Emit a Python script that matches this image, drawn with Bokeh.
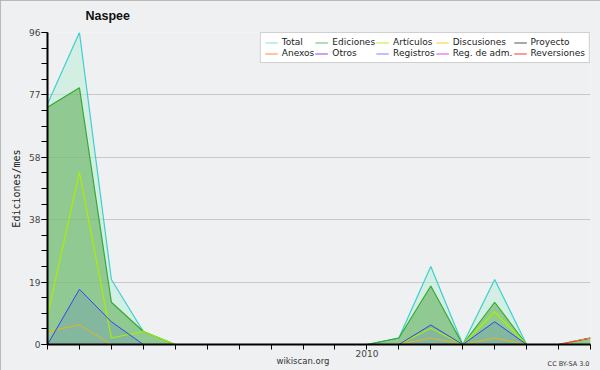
from bokeh.plotting import figure
from bokeh.models import Range1d, FixedTicker, PrintfTickFormatter, Legend, LegendItem, Title
from bokeh.embed import file_html
from bokeh.resources import INLINE

months = ["2009-03", "2009-04", "2009-05", "2009-06", "2009-07", "2009-08",
          "2009-09", "2009-10", "2009-11", "2009-12", "2010-01", "2010-02",
          "2010-03", "2010-04", "2010-05", "2010-06", "2010-07", "2010-08"]
total       = [74, 96, 20, 4, 0, 0, 0, 0, 0, 0, 0, 2, 24, 0, 20, 0, 0, 2]
ediciones   = [73, 79, 13, 4, 0, 0, 0, 0, 0, 0, 0, 2, 18, 0, 13, 0, 0, 2]
articulos   = [9, 53, 2, 4, 0, 0, 0, 0, 0, 0, 0, 0, 5, 0, 10, 0, 0, 0]
discusiones = [4, 6, 0, 0, 0, 0, 0, 0, 0, 0, 0, 0, 2, 0, 2, 0, 0, 0]
proyecto    = [0, 0, 0, 0, 0, 0, 0, 0, 0, 0, 0, 0, 0, 0, 0, 0, 0, 0]
anexos      = [0, 0, 0, 0, 0, 0, 0, 0, 0, 0, 0, 0, 0, 0, 0, 0, 0, 2]
otros       = [0, 0, 0, 0, 0, 0, 0, 0, 0, 0, 0, 0, 0, 0, 0, 0, 0, 0]
registros   = [0, 17, 7, 0, 0, 0, 0, 0, 0, 0, 0, 0, 6, 0, 7, 0, 0, 0]
reg_adm     = [0, 0, 0, 0, 0, 0, 0, 0, 0, 0, 0, 0, 0, 0, 0, 0, 0, 0]
reversiones = [0, 0, 0, 0, 0, 0, 0, 0, 0, 0, 0, 0, 0, 0, 0, 0, 0, 2]
y_max = 96
y_label = "Ediciones/mes"
title_text = "Naspee"

x = list(range(len(months)))
BG = "#EFF0F1"
FONT = "DejaVu Sans"

p = figure(width=600, height=370, output_backend="svg", toolbar_location=None,
           title=title_text,
           x_range=Range1d(0, len(months) - 1), y_range=Range1d(0, y_max),
           min_border_left=47, min_border_right=10, min_border_top=32, min_border_bottom=26,
           background_fill_color=BG, border_fill_color=BG, outline_line_color=None)
p.styles = {"outline": "1px solid #A8A8A8", "outline-offset": "-1px"}

p.title.align = "left"
p.title.offset = 38
p.title.vertical_align = "top"
p.title.standoff = 16
p.title.text_font = "Liberation Sans"
p.title.text_font_size = "12.5px"
p.title.text_font_style = "bold"
p.title.text_color = "#111111"

# grid
p.xgrid.visible = False
p.ygrid.grid_line_color = "#C8C8C8"
p.ygrid.grid_line_width = 1

# y axis
majors = [y_max * k / 5 for k in range(6)]
minors = [y_max * k / 20 for k in range(21)]
p.yaxis.ticker = FixedTicker(ticks=majors, minor_ticks=minors)
p.yaxis.formatter = PrintfTickFormatter(format="%.0f")
p.yaxis.axis_label = y_label
p.yaxis.axis_label_text_font = "DejaVu Sans Mono"
p.yaxis.axis_label_text_font_size = "10px"
p.yaxis.axis_label_text_font_style = "normal"
p.yaxis.axis_label_text_color = "#222222"
p.yaxis.axis_label_standoff = 4
p.yaxis.major_label_text_font = FONT
p.yaxis.major_label_text_font_size = "9px"
p.yaxis.major_label_text_color = "#444444"
p.yaxis.major_label_standoff = 1
p.yaxis.major_tick_out = 6
p.yaxis.major_tick_in = 0
p.yaxis.minor_tick_out = 6
p.yaxis.minor_tick_in = 0
p.yaxis.axis_line_width = 2
p.yaxis.axis_line_color = "black"

# x axis
p.xaxis.ticker = FixedTicker(ticks=x, minor_ticks=[])
p.xaxis.major_label_overrides = {i: (m[:4] if m.endswith("-01") else "") for i, m in zip(x, months)}
p.xaxis.major_label_text_font = FONT
p.xaxis.major_label_text_font_size = "9px"
p.xaxis.major_label_text_color = "#444444"
p.xaxis.major_label_standoff = 0
p.xaxis.major_tick_out = 5
p.xaxis.major_tick_in = 0
p.xaxis.axis_line_width = 2
p.xaxis.axis_line_color = "black"

# areas
p.varea(x=x, y1=0, y2=total, fill_color="#B8EED8", fill_alpha=0.5)
p.line(x, total, line_color="#3CCFCF", line_width=1.2)
p.varea(x=x, y1=0, y2=ediciones, fill_color="#50A440", fill_alpha=0.5)
p.line(x, ediciones, line_color="#33AA33", line_width=1.2)
p.varea(x=x, y1=0, y2=registros, fill_color="#3355EE", fill_alpha=0.15)

p.line(x, reg_adm, line_color="#DD44EE", line_width=1)
p.line(x, otros, line_color="#8833DD", line_width=1)
p.line(x, proyecto, line_color="#555555", line_width=1)
p.line(x, discusiones, line_color="#E6B422", line_width=1)
p.line(x, articulos, line_color="#AAEE00", line_width=1.2)
p.line(x, registros, line_color="#3344EE", line_width=1)
p.line(x, reversiones, line_color="#FF3333", line_width=1.2)
p.line(x, anexos, line_color="#FF7F27", line_width=1.2, line_dash="3 3")

# legend entries (colours as shown in the legend)
leg_items = [
    ("Total", "#88E0E0"), ("Ediciones", "#66BB66"), ("Artículos", "#BBEE33"),
    ("Discusiones", "#FFCC33"), ("Proyecto", "#555555"),
    ("Anexos", "#FF8844"), ("Otros", "#9944DD"), ("Registros", "#7788FF"),
    ("Reg. de adm.", "#DD44EE"), ("Reversiones", "#FF3333"),
]
items = []
for name, col in leg_items:
    r = p.line([0], [0], line_color=col, line_width=1.2)
    items.append(LegendItem(label=name, renderers=[r]))

legend = Legend(items=items, location="top_right", orientation="horizontal", ncols=5,
                label_text_font=FONT, label_text_font_size="9px", label_text_color="#222222",
                glyph_width=13, glyph_height=9, label_height=9, label_standoff=4,
                spacing=1, padding=4, margin=0,
                background_fill_color="white", background_fill_alpha=1.0,
                border_line_color="#A0A0A0", border_line_width=1)
p.add_layout(legend, "center")

# bottom texts
p.add_layout(Title(text="wikiscan.org", align="left", offset=229, standoff=-9,
                   vertical_align="middle",
                   text_font=FONT, text_font_size="8.5px", text_font_style="normal",
                   text_color="#333333"), "below")
p.add_layout(Title(text="CC BY-SA 3.0", align="right", offset=1, standoff=-8,
                   vertical_align="middle",
                   text_font=FONT, text_font_size="6.5px", text_font_style="normal",
                   text_color="#333333"), "below")

open("out.html", "w").write(file_html(p, INLINE))
